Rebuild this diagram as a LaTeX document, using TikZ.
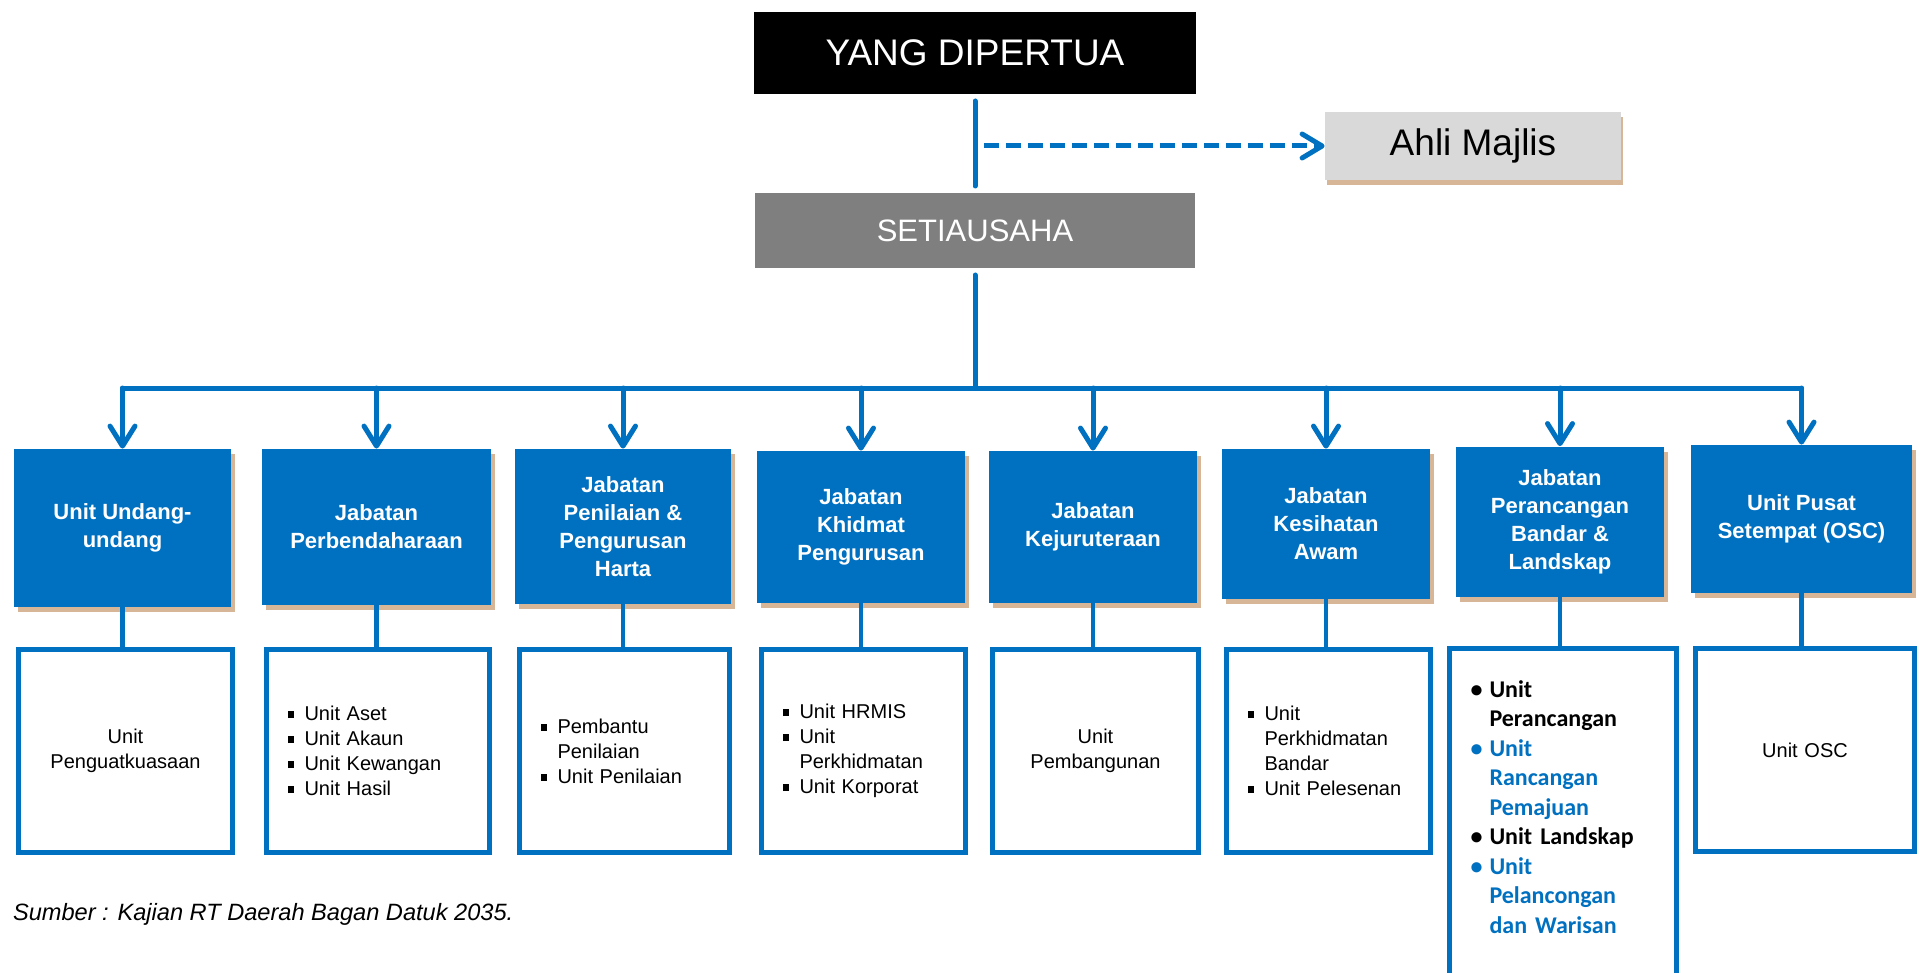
\documentclass[tikz,border=0pt]{standalone}
\usepackage{fontspec}
\setmainfont{Liberation Sans}
\newfontfamily\carlito{Carlito}
\usetikzlibrary{arrows.meta,shadows}

\definecolor{orgblue}{RGB}{0,112,192}
\definecolor{shadowtan}{RGB}{214,182,150}
\definecolor{setiagray}{RGB}{127,127,127}
\definecolor{ahligray}{RGB}{217,217,217}

% bullets for the unit lists
\newcommand{\sqb}{\makebox[8.5pt][l]{\rule[0.25ex]{0.34em}{0.34em}}}
\newcommand{\dotb}{\makebox[9.5pt][l]{\textbullet}}
\newcommand{\ind}{\hspace*{8.5pt}}
\newcommand{\indd}{\hspace*{9.5pt}}

\begin{document}
\begin{tikzpicture}[x=0.5pt, y=-0.5pt,
	headbox/.style={draw=white, line width=3.5pt, text=white,
		drop shadow={shadow xshift=1pt, shadow yshift=-2pt, opacity=0.45, fill=black!55}},
	deptbox/.style={fill=orgblue, text=white, align=center,
		font=\bfseries\fontsize{11}{14}\selectfont,
		drop shadow={shadow xshift=2pt, shadow yshift=-2.5pt, opacity=1, fill=shadowtan}},
	unitbox/.style={draw=orgblue, line width=2.5pt, fill=white, inner xsep=10.5pt,
		font=\fontsize{10}{12.5}\selectfont},
	mainline/.style={draw=orgblue, line width=2.5pt, line cap=round},
	busarrow/.style={mainline, -{Straight Barb[length=10pt, width=12.5pt, round]}},
	dasharrow/.style={draw=orgblue, line width=2.5pt, dash pattern=on 7.5pt off 3.5pt,
		-{Straight Barb[length=10pt, width=12pt, round]}}
	]
	\useasboundingbox (0,0) rectangle (1922,973);
	
	\node[headbox, fill=black, minimum width=224.5pt, minimum height=44.5pt,
		font=\fontsize{18.5}{22}\selectfont] (yang) at (975,53) {YANG DIPERTUA};
	\node[headbox, fill=setiagray, minimum width=223.5pt, minimum height=41pt,
		font=\fontsize{15.5}{18}\selectfont] (setia) at (975,230.5) {SETIAUSAHA};
	\node[fill=ahligray, minimum width=148pt, minimum height=34pt,
		font=\fontsize{18.5}{21}\selectfont,
		drop shadow={shadow xshift=1pt, shadow yshift=-2.5pt, opacity=1, fill=shadowtan}]
		(ahli) at (1473,146) {Ahli Majlis};
	
	\coordinate (majlisfork) at (984,146);
	\coordinate (bus) at (975,388);
	
	\draw[mainline] (yang.south) -- (setia.north);
	\draw[dasharrow] (majlisfork) -- (ahli.west);
	
	% jabatan / unit
	\node[deptbox, minimum width=108.5pt, minimum height=79pt] (d1) at (122.5,528) {Unit Undang-\\undang};
	\node[deptbox, minimum width=114.5pt, minimum height=78pt] (d2) at (376.5,527) {Jabatan\\Perbendaharaan};
	\node[deptbox, minimum width=108pt, minimum height=77.5pt] (d3) at (623,526.5) {Jabatan\\Penilaian \&\\Pengurusan\\Harta};
	\node[deptbox, minimum width=104pt, minimum height=76pt] (d4) at (861,527) {Jabatan\\Khidmat\\Pengurusan};
	\node[deptbox, minimum width=104pt, minimum height=76pt] (d5) at (1093,527) {Jabatan\\Kejuruteraan};
	\node[deptbox, minimum width=104pt, minimum height=75pt] (d6) at (1326,524) {Jabatan\\Kesihatan\\Awam};
	\node[deptbox, minimum width=104pt, minimum height=75pt] (d7) at (1560,521.5) {Jabatan\\Perancangan\\Bandar \&\\Landskap};
	\node[deptbox, minimum width=110.5pt, minimum height=74pt] (d8) at (1801.5,519) {Unit Pusat\\Setempat (OSC)};
	
	\node[unitbox, text width=86pt, minimum height=101.5pt, align=center] (u1) at (125.5,751)
		{Unit\\Penguatkuasaan};
	\node[unitbox, text width=90.5pt, minimum height=101.5pt, align=left] (u2) at (378,751)
		{\sqb Unit Aset\\\sqb Unit Akaun\\\sqb Unit Kewangan\\\sqb Unit Hasil};
	\node[unitbox, text width=84pt, minimum height=101.5pt, align=left] (u3) at (624.5,751)
		{\sqb Pembantu\\\ind Penilaian\\\sqb Unit Penilaian};
	\node[unitbox, text width=81pt, minimum height=101.5pt, align=left] (u4) at (863.5,751)
		{\sqb Unit HRMIS\\\sqb Unit\\\ind Perkhidmatan\\\sqb Unit Korporat};
	\node[unitbox, text width=82pt, minimum height=101.5pt, align=center] (u5) at (1095.5,751)
		{Unit\\Pembangunan};
	\node[unitbox, text width=81pt, minimum height=101.5pt, align=left] (u6) at (1328.5,751)
		{\sqb Unit\\\ind Perkhidmatan\\\ind Bandar\\\sqb Unit Pelesenan};
	\node[unitbox, text width=92.5pt, inner ysep=16pt, align=left, anchor=north,
		font=\carlito\bfseries\fontsize{12}{14.75}\selectfont] (u7) at (1563,646)
		{\dotb Unit\\\indd Perancangan\\
		\textcolor{orgblue}{\dotb Unit}\\\textcolor{orgblue}{\indd Rancangan}\\\textcolor{orgblue}{\indd Pemajuan}\\
		\dotb Unit Landskap\\
		\textcolor{orgblue}{\dotb Unit}\\\textcolor{orgblue}{\indd Pelancongan}\\\textcolor{orgblue}{\indd dan Warisan}\rule[-22pt]{0pt}{22pt}};
	\node[unitbox, text width=88.5pt, minimum height=101.5pt, align=center] (u8) at (1805,750)
		{Unit OSC};
	
	% garis utama
	\draw[mainline] (setia.south) -- (setia.south |- bus);
	\draw[mainline] (d1 |- bus) -- (d8 |- bus);
	
	\draw[busarrow] (d1 |- bus) -- (d1.north);
	\draw[busarrow] (d2 |- bus) -- (d2.north);
	\draw[busarrow] (d3 |- bus) -- (d3.north);
	\draw[busarrow] (d4 |- bus) -- (d4.north);
	\draw[busarrow] (d5 |- bus) -- (d5.north);
	\draw[busarrow] (d6 |- bus) -- (d6.north);
	\draw[busarrow] (d7 |- bus) -- (d7.north);
	\draw[busarrow] (d8 |- bus) -- (d8.north);
	
	\draw[mainline, line width=2.2pt] (d1.south) -- (d1.south |- u1.north);
	\draw[mainline, line width=2.2pt] (d2.south) -- (d2.south |- u2.north);
	\draw[mainline, line width=2.2pt] (d3.south) -- (d3.south |- u3.north);
	\draw[mainline, line width=2.2pt] (d4.south) -- (d4.south |- u4.north);
	\draw[mainline, line width=2.2pt] (d5.south) -- (d5.south |- u5.north);
	\draw[mainline, line width=2.2pt] (d6.south) -- (d6.south |- u6.north);
	\draw[mainline, line width=2.2pt] (d7.south) -- (d7.south |- u7.north);
	\draw[mainline, line width=2.2pt] (d8.south) -- (d8.south |- u8.north);
	
	\node[anchor=west, font=\itshape\fontsize{11.8}{14}\selectfont] (source) at (6,914)
		{Sumber : Kajian RT Daerah Bagan Datuk 2035.};
\end{tikzpicture}
\end{document}
